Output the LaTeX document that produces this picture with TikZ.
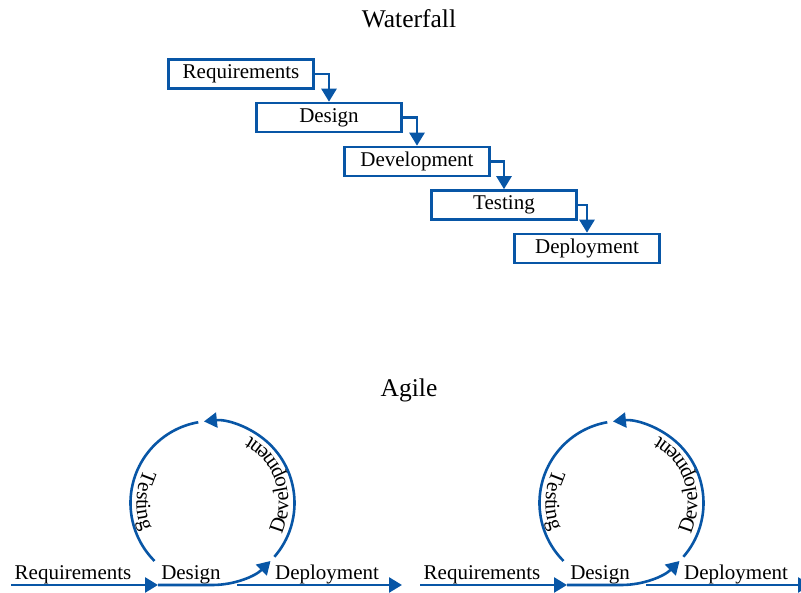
\documentclass[tikz,border=0pt]{standalone}
\usepackage{fontspec}
\setmainfont{Liberation Serif}
\definecolor{FlowBlue}{RGB}{8, 86, 166}
\usetikzlibrary{arrows.meta, positioning, decorations.text}

\begin{document}
\begin{tikzpicture}[
            x=1pt, y=1pt,
            phase/.style={rectangle, draw=FlowBlue, line width=2.6pt, minimum width=145pt,
                          minimum height=29pt, inner sep=0pt, font=\fontsize{21}{24}\selectfont},
            heading/.style={anchor=base, font=\fontsize{25.5}{30}\selectfont},
            tag/.style={anchor=base, font=\fontsize{21}{24}\selectfont},
            arrow/.style={-{Triangle[length=13pt, width=15pt]}, line width=2.6pt, FlowBlue},
            ring/.style={line width=2.6pt, FlowBlue},
            along/.style={decorate, decoration={text along path, text align=center,
                          text={|\fontsize{21}{24}\selectfont|#1}}}
        ]
            \useasboundingbox (0,0) rectangle (801,593);
            \clip (0,0) rectangle (801,593);

            \node[heading] (waterfall) at (409, 565) {Waterfall};
            \node[phase] (req) at (241, 519) {Requirements};
            \node[phase] (design) at (329, 475.5) {Design};
            \node[phase] (dev) at (417, 431.5) {Development};
            \node[phase] (test) at (504, 388) {Testing};
            \node[phase] (deploy) at (587, 344.5) {Deployment};

            \draw[arrow] (req.east) -| (design.north);
            \draw[arrow] (design.east) -| (dev.north);
            \draw[arrow] (dev.east) -| (test.north);
            \draw[arrow] (test.east) -| (deploy.north);

            \node[heading] (agile) at (409, 196) {Agile};

            \foreach \k/\dx in {l/0, r/409} {
                \begin{scope}[xshift=\dx]
                    \coordinate (\k-hub) at (212.5, 90);
                    \coordinate (\k-in) at (11, 8);
                    \coordinate (\k-mid) at (158, 8);
                    \coordinate (\k-low) at (212.5, 8);
                    \coordinate (\k-out) at (237, 8);
                    \coordinate (\k-end) at (402, 8);

                    \node[tag] (\k-req) at (73, 13) {Requirements};
                    \node[tag] (\k-design) at (191, 13) {Design};
                    \node[tag] (\k-deploy) at (327, 13) {Deployment};

                    \draw[arrow] (\k-in) -- (\k-mid);
                    \draw[arrow] (\k-mid) -- (\k-low) arc[start angle=-90, end angle=-45, radius=82pt];
                    \draw[arrow] ([shift={(-41:82pt)}]\k-hub) arc[start angle=-41, end angle=96, radius=82pt];
                    \draw[ring] ([shift={(100:82pt)}]\k-hub) arc[start angle=100, end angle=225, radius=82pt];
                    \path[along=Development] ([shift={(-35:76pt)}]\k-hub) arc[start angle=-35, end angle=71, radius=76pt];
                    \path[along=Testing] ([shift={(130:76pt)}]\k-hub) arc[start angle=130, end angle=226, radius=76pt];
                    \draw[arrow] (\k-out) -- (\k-end);
                \end{scope}
            }
        \end{tikzpicture}
\end{document}
